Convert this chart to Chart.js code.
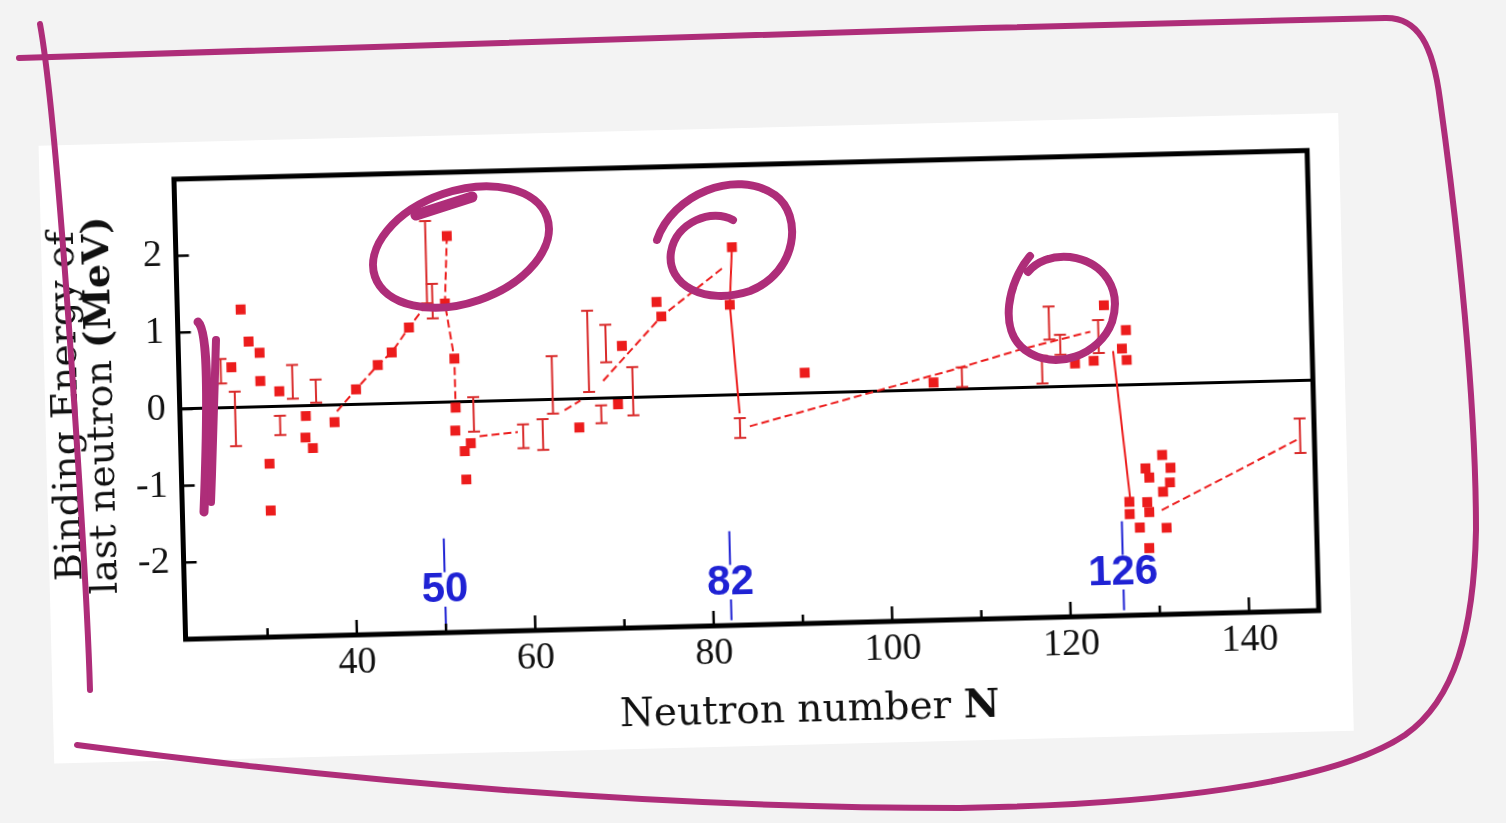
<!DOCTYPE html>
<html>
<head>
<meta charset="utf-8">
<script src="https://cdn.jsdelivr.net/npm/chart.js@4/dist/chart.umd.min.js"></script>
<style>
  html, body { margin:0; padding:0; width:1506px; height:823px; overflow:hidden; background:#f3f3f3; }
  #panel { position:absolute; left:45px; top:128px; width:1300px; height:618px; background:#ffffff;
           transform-origin:701px 263px; transform:rotate(-1.45deg); }
  #panel canvas { display:block; }
  #ink { position:absolute; left:0; top:0; pointer-events:none; }
  #ink path, #ink ellipse { fill:none; stroke:#ae2d79; stroke-linecap:round; stroke-linejoin:round; }
</style>
</head>
<body>
<div id="panel"><canvas id="c" width="1300" height="618"></canvas></div>
<svg id="ink" width="1506" height="823" viewBox="0 0 1506 823">
  <path d="M19,58 C300,50 900,28 1385,18 C1418,17 1433,45 1440,100 C1458,230 1476,400 1476,530 C1474,630 1455,700 1405,735 C1330,785 1150,805 960,808 C700,808 400,788 77,745" stroke-width="6"/>
  <path d="M40,24 C52,90 64,250 74,400 C82,520 88,620 90,690" stroke-width="6"/>
  <ellipse cx="461" cy="247" rx="91" ry="56" transform="rotate(-19 461 247)" stroke-width="8"/>
  <path d="M472,197 L416,215" stroke-width="11"/>
  <path d="M657,240 C672,195 735,168 775,195 C803,215 798,272 750,291 C705,306 666,285 671,252 C676,222 712,208 733,220" stroke-width="8"/>
  <path d="M1030,256 C1008,282 998,330 1025,350 C1055,372 1100,355 1112,322 C1122,290 1105,262 1070,257 C1052,255 1036,262 1028,272" stroke-width="8"/>
  <path d="M198,322 C209,332 208,410 204,512" stroke-width="9"/>
  <path d="M216,340 C214,400 213,450 211,502" stroke-width="8"/>
</svg>
<script>
// ---------------- data ----------------
// measured values: filled squares
const sqN = [27.9, 28.7, 29.9, 26.7, 29.9, 32.0, 34.9, 38.1, 34.8, 35.6, 30.7, 30.7,
             40.6, 43.1, 44.7, 46.7, 51.2, 50.8, 51.7, 51.7, 51.6, 52.6, 53.3, 52.7,
             65.5, 69.9, 70.5, 74.5, 75.0, 83.1, 82.7, 90.9, 105.3,
             121.2, 123.3, 124.6, 127.0, 126.5, 127.0,
             130.7, 128.8, 129.2, 131.6, 131.5, 130.7, 126.9, 126.9, 128.9, 129.1, 128.0, 131.0, 129.0];
const sqE = [1.28, 0.86, 0.71, 0.53, 0.34, 0.20, -0.13, -0.22, -0.41, -0.55, -0.74, -1.35,
             0.20, 0.51, 0.67, 0.99, 2.17, 1.29, 0.57, -0.07, -0.37, -0.64, -0.54, -1.01,
             -0.37, -0.08, 0.68, 1.24, 1.05, 1.93, 1.18, 0.27, 0.10,
             0.30, 0.33, 1.05, 0.72, 0.48, 0.33,
             -0.92, -1.09, -1.21, -1.09, -1.28, -1.40, -1.52, -1.68, -1.53, -1.66, -1.86, -1.87, -2.13];

// measured values with error bars
const ebN    = [25.5, 27.0, 32.0, 33.5, 36.1, 48.8, 49.4, 53.7, 59.2, 61.4, 62.6, 66.7, 68.0, 68.7, 71.6,
                83.5, 108.5, 117.5, 118.4, 119.6, 123.9, 146.2];
const ebLow  = [0.32, -0.50, -0.37, 0.10, 0.04, 1.30, 1.10, -0.39, -0.62, -0.65, -0.18, 0.09, -0.32, 0.47, -0.23,
                -0.56, 0.03, 0.05, 0.62, 0.42, 0.43, -0.94];
const ebHigh = [0.64, 0.21, -0.12, 0.54, 0.34, 2.37, 1.55, 0.06, -0.31, -0.25, 0.57, 1.15, -0.09, 0.96, 0.40,
                -0.30, 0.29, 0.41, 1.05, 0.68, 0.86, -0.49];

// connecting lines (dashed) : [N, E] vertices
const dashA = [[38.4, -0.08], [40.6, 0.20], [43.1, 0.51], [44.7, 0.67], [46.7, 0.99], [48.5, 1.25]];
const dashB = [[51.2, 2.17], [50.8, 1.29], [51.7, 0.57], [51.7, -0.07]];
const dashC = [[54.3, -0.45], [58.6, -0.41]];
const dashD = [[63.9, -0.14], [65.7, -0.02]];
const dashE = [[68.3, 0.23], [75.0, 1.05], [82.1, 1.67]];
const dashF = [[84.6, -0.41], [107.2, 0.25], [115.1, 0.50], [123.0, 0.71]];
const dashG = [[130.5, -1.64], [145.8, -0.77]];
// connecting lines (solid) at the shell closures
const solidA = [[83.1, 1.93], [82.7, 1.18], [83.5, -0.24]];
const solidB = [[125.5, 0.45], [127.0, -1.48]];

// magic numbers marked in blue
const magicN = [50, 82, 126];
const magicLabels = ['50', '82', '126'];

// axes
const xTickValues = [30, 40, 50, 60, 70, 80, 90, 100, 110, 120, 130, 140];
const xLabelValues = [40, 60, 80, 100, 120, 140];
const yTickValues = [-2, -1, 0, 1, 2];
const xTitleParts = [['Neutron number ', false], ['N', true]];
const yTitleLines = [[['Binding Energy of', false]], [['last neutron ', false], ['(MeV)', true]]];

// ---------------- build ----------------
const RED = '#ec1c1c';
const BAR_RED = '#d92b2b';
const BLUE = '#1f22d4';
const TITLE_FONT = '"DejaVu Serif", serif';

function joinLines(lines) {
  const out = [];
  lines.forEach((ln, i) => {
    if (i > 0) out.push({ x: ln[0][0], y: null });
    ln.forEach(p => out.push({ x: p[0], y: p[1] }));
  });
  return out;
}
const squares = sqN.map((n, i) => ({ x: n, y: sqE[i] }));
const bars = [];
ebN.forEach((n, i) => {
  bars.push({ x: n, y: ebLow[i] }, { x: n, y: ebHigh[i] }, { x: n, y: null });
});

function drawParts(ctx, parts, size, cx, cy) {
  const fonts = parts.map(p => (p[1] ? 'bold ' : '') + size + 'px ' + TITLE_FONT);
  let total = 0;
  const widths = parts.map((p, i) => { ctx.font = fonts[i]; const w = ctx.measureText(p[0]).width; total += w; return w; });
  let xx = cx - total / 2;
  ctx.textAlign = 'left';
  ctx.textBaseline = 'middle';
  parts.forEach((p, i) => { ctx.font = fonts[i]; ctx.fillText(p[0], xx, cy); xx += widths[i]; });
}

const decor = {
  id: 'decor',
  afterDatasetsDraw(chart) {
    const { ctx, chartArea: a, scales: { x, y } } = chart;
    ctx.save();
    // magic-number markers
    ctx.strokeStyle = BLUE; ctx.fillStyle = BLUE; ctx.lineWidth = 2;
    ctx.font = 'bold 42px "Liberation Sans", sans-serif';
    ctx.textAlign = 'center'; ctx.textBaseline = 'middle';
    magicN.forEach((n, i) => {
      const px = x.getPixelForValue(n);
      ctx.beginPath();
      ctx.moveTo(px, y.getPixelForValue(-1.77)); ctx.lineTo(px, y.getPixelForValue(-2.21));
      ctx.moveTo(px, y.getPixelForValue(-2.66)); ctx.lineTo(px, y.getPixelForValue(-2.93));
      ctx.stroke();
      ctx.fillText(magicLabels[i], px, y.getPixelForValue(-2.45));
    });
    // inward tick marks
    ctx.strokeStyle = '#000'; ctx.lineWidth = 2.5;
    ctx.beginPath();
    xTickValues.forEach(v => {
      const px = x.getPixelForValue(v);
      const len = xLabelValues.includes(v) ? 15 : 9;
      ctx.moveTo(px, a.bottom); ctx.lineTo(px, a.bottom - len);
    });
    yTickValues.forEach(v => {
      const py = y.getPixelForValue(v);
      ctx.moveTo(a.left, py); ctx.lineTo(a.left + 13, py);
    });
    ctx.stroke();
    // frame
    ctx.lineWidth = 5;
    ctx.strokeRect(a.left, a.top, a.right - a.left, a.bottom - a.top);
    ctx.restore();
  },
  afterDraw(chart) {
    const { ctx, chartArea: a } = chart;
    ctx.save();
    ctx.fillStyle = '#111';
    // x title
    drawParts(ctx, xTitleParts, 39, a.left + 622, a.bottom + 88);
    // y title (two rotated lines)
    const cy = (a.top + a.bottom) / 2 - 6;
    const xs = [a.left - 112, a.left - 77];
    yTitleLines.forEach((parts, i) => {
      ctx.save();
      ctx.translate(xs[i], cy);
      ctx.rotate(-Math.PI / 2);
      drawParts(ctx, parts, 38, 0, 0);
      ctx.restore();
    });
    ctx.restore();
  }
};

new Chart(document.getElementById('c'), {
  type: 'scatter',
  data: {
    datasets: [
      { label: 'trend (dashed)', data: joinLines([dashA, dashB, dashC, dashD, dashE, dashF, dashG]),
        showLine: true, borderColor: RED, borderWidth: 2, borderDash: [8, 4], pointRadius: 0, spanGaps: false },
      { label: 'trend (solid)', data: joinLines([solidA, solidB]),
        showLine: true, borderColor: RED, borderWidth: 2, pointRadius: 0, spanGaps: false },
      { label: 'error bars', data: bars, showLine: true, spanGaps: false,
        borderColor: BAR_RED, borderWidth: 2, pointStyle: 'line', pointRadius: 6,
        pointBorderColor: BAR_RED, pointBorderWidth: 2 },
      { label: 'measured', data: squares, pointStyle: 'rect', pointRadius: 7,
        pointBackgroundColor: RED, pointBorderWidth: 0 }
    ]
  },
  options: {
    responsive: false, animation: false, devicePixelRatio: 1,
    layout: { padding: { left: 0, top: 29.4, right: 32, bottom: 0 } },
    plugins: { legend: { display: false }, tooltip: { enabled: false } },
    scales: {
      x: {
        type: 'linear', min: 20.8, max: 147.8,
        afterBuildTicks: s => { s.ticks = xTickValues.map(v => ({ value: v })); },
        afterFit: s => { s.height = 121; },
        grid: { display: false, drawTicks: false },
        border: { display: false },
        ticks: { autoSkip: false, maxRotation: 0, padding: 5, color: '#111',
                 font: { family: '"Liberation Serif", serif', size: 38 },
                 callback: v => xLabelValues.includes(v) ? String(v) : '' }
      },
      y: {
        type: 'linear', min: -3, max: 3,
        afterBuildTicks: s => { s.ticks = yTickValues.map(v => ({ value: v })); },
        afterFit: s => { s.width = 134.5; },
        grid: { drawTicks: false, lineWidth: 3,
                color: c => (c.tick && c.tick.value === 0) ? '#000' : 'rgba(0,0,0,0)' },
        border: { display: false },
        ticks: { padding: 14, color: '#111',
                 font: { family: '"Liberation Serif", serif', size: 38 },
                 callback: v => String(v) }
      }
    }
  },
  plugins: [decor]
});
</script>
</body>
</html>
